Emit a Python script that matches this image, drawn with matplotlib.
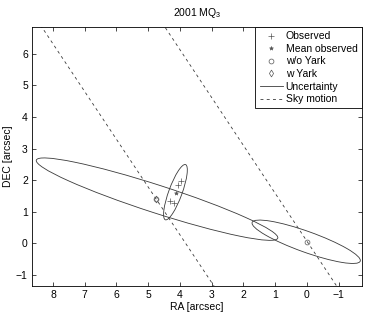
import matplotlib.pyplot as plt
import numpy as np
from matplotlib.patches import Ellipse
from matplotlib.lines import Line2D

plt.rcParams['font.family'] = ['Liberation Sans', 'DejaVu Sans']
plt.rcParams['font.size'] = 7.5
plt.rcParams['mathtext.fontset'] = 'custom'
plt.rcParams['mathtext.rm'] = 'Liberation Sans'

# Observed positions [arcsec]
obs_ra = [3.97, 4.05, 4.31, 4.17]
obs_dec = [1.98, 1.84, 1.35, 1.27]

# Mean of the observations
mean_ra = [4.13]
mean_dec = [1.60]

# Predicted positions
noyark_ra = [4.76, 0.01]
noyark_dec = [1.40, 0.05]
yark_ra = [4.76]
yark_dec = [1.40]

# Uncertainty ellipses: centre RA, centre DEC, semi-major, semi-minor, angle [deg]
ell_ra = [4.72, 4.14, 0.02]
ell_dec = [1.40, 1.62, 0.05]
ell_a = [4.00, 0.93, 1.81]
ell_b = [0.44, 0.21, 0.33]
ell_ang = [18.0, 110.0, 19.8]

# Sky motion lines (endpoints)
sky1_ra = [9.0, 2.0]
sky1_dec = [7.83, -2.75]
sky2_ra = [5.0, -1.5]
sky2_dec = [7.65, -2.20]

fig = plt.figure(figsize=(3.71, 3.13), dpi=100)
ax = fig.add_axes([0.0863, 0.0863, 0.8887, 0.8274])

lc = '#3a3a3a'
mc = '#555555'
ax.plot(sky1_ra, sky1_dec, '--', color=lc, lw=0.6, dashes=(3.5, 4))
ax.plot(sky2_ra, sky2_dec, '--', color=lc, lw=0.6, dashes=(3.5, 4))

for cx, cy, a, b, ang in zip(ell_ra, ell_dec, ell_a, ell_b, ell_ang):
    ax.add_patch(Ellipse((cx, cy), 2 * a, 2 * b, angle=ang, fill=False,
                         edgecolor=lc, lw=0.6))

ax.plot(obs_ra, obs_dec, '+', color=mc, ms=4, mew=0.5)
ax.plot(mean_ra, mean_dec, '*', color=mc, ms=3, mew=0.4)
ax.plot(noyark_ra, noyark_dec, 'o', mfc='none', mec=mc, ms=3.5, mew=0.5)
ax.plot(yark_ra, yark_dec, 'd', mfc='none', mec=mc, ms=3.5, mew=0.5)

ax.set_xlim(8.66, -1.73)
ax.set_ylim(-1.35, 6.85)
ax.set_xticks(np.arange(8, -2, -1))
ax.set_yticks(np.arange(-1, 7, 1))
ax.set_xticklabels(['8', '7', '6', '5', '4', '3', '2', '1', '0', '\u22121'])
ax.set_yticklabels(['\u22121', '0', '1', '2', '3', '4', '5', '6'])
ax.tick_params(direction='in', top=True, right=True, length=3, width=0.5, pad=3)
for s in ax.spines.values():
    s.set_linewidth(0.6)

ax.set_xlabel('RA [arcsec]', labelpad=1)
ax.set_ylabel('DEC [arcsec]', labelpad=2)
ax.set_title('2001 MQ$_3$', fontsize=7.5, pad=8)

handles = [
    Line2D([], [], ls='none', marker='+', color=mc, ms=4, mew=0.5),
    Line2D([], [], ls='none', marker='*', color=mc, ms=3, mew=0.4),
    Line2D([], [], ls='none', marker='o', mfc='none', mec=mc, ms=3.5, mew=0.5),
    Line2D([], [], ls='none', marker='d', mfc='none', mec=mc, ms=3.5, mew=0.5),
    Line2D([], [], color=lc, lw=0.6),
    Line2D([], [], color=lc, lw=0.6, ls='--', dashes=(3.5, 4)),
]
labels = ['Observed', 'Mean observed', 'w/o Yark', 'w Yark', 'Uncertainty', 'Sky motion']
leg = ax.legend(handles, labels, loc='upper right', borderaxespad=0, fancybox=False,
                edgecolor='black', framealpha=1, handlelength=2.2, handletextpad=0.3,
                labelspacing=0.25, borderpad=0.4, fontsize=7.5)
leg.get_frame().set_linewidth(0.6)

fig.savefig('out.png', dpi=100)
